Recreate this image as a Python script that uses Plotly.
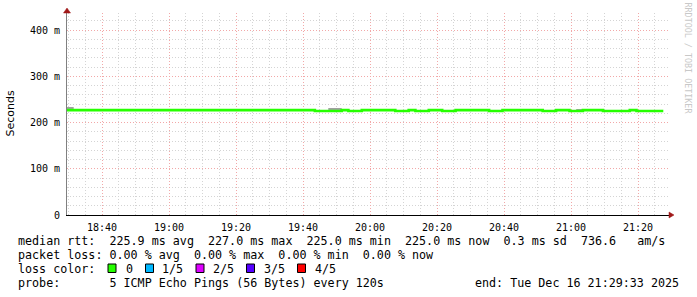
import plotly.graph_objects as go
from datetime import datetime, timedelta

# ---------------- data ----------------
start_time = datetime(2025, 12, 16, 18, 29, 33)
end_time = datetime(2025, 12, 16, 21, 29, 33)
step_minutes = 2

# median rtt per 2-minute bin (ms)
median_ms = [
    226.8, 226.8, 226.8, 226.8, 226.8, 226.8, 226.8, 226.8, 226.8, 226.8,
    226.8, 226.8, 226.8, 226.8, 226.8, 226.8, 226.8, 226.8, 226.8, 226.8,
    226.8, 226.8, 226.8, 226.8, 226.8, 226.8, 226.8, 226.8, 226.8, 226.8,
    226.8, 226.8, 226.8, 226.8, 226.8, 226.8, 226.8, 225.0, 225.0, 225.0,
    225.0, 226.8, 225.0, 225.0, 226.8, 226.8, 226.8, 226.8, 226.8, 225.0,
    225.0, 226.8, 225.0, 225.0, 226.8, 226.8, 225.0, 225.0, 226.8, 226.8,
    226.8, 226.8, 226.8, 225.0, 225.0, 226.8, 226.8, 226.8, 226.8, 226.8,
    226.8, 225.0, 225.0, 226.8, 226.8, 225.0, 225.0, 226.8, 226.8, 226.8,
    225.0, 225.0, 225.0, 225.0, 226.8, 225.0, 225.0, 225.0, 225.0,
]

# smoke (max ping) where visible above the median
smoke_bins = [0, 1, 7, 8, 39, 40, 76, 77]
smoke_max_ms = [233.5, 229.2, 229.0, 229.0, 231.4, 231.4, 229.0, 229.0]

y_tick_vals = [0, 100, 200, 300, 400]
y_tick_text = ["0", "100 m", "200 m", "300 m", "400 m"]

stats_lines = [
    "median rtt:  225.9 ms avg  227.0 ms max  225.0 ms min  225.0 ms now  0.3 ms sd  736.6   am/s",
    "packet loss: 0.00 % avg  0.00 % max  0.00 % min  0.00 % now",
]
loss_labels = ["0", "1/5", "2/5", "3/5", "4/5"]
loss_colors = ["#26ff00", "#00b8ff", "#dd00ff", "#5500ff", "#ff0000"]
probe_text = "probe:       5 ICMP Echo Pings (56 Bytes) every 120s"
end_text = "end: Tue Dec 16 21:29:33 2025"
watermark = "RRDTOOL / TOBI OETIKER"

# ---------------- geometry helpers ----------------
W, H = 697, 297
L, R, T, B = 67, 670, 13, 215


def px(x):
    return (x - L) / (R - L)


def py(y):
    return (B - y) / (B - T)


def nb(s):
    return s.replace(" ", "\u00a0")


bin_starts = [start_time + timedelta(minutes=step_minutes * i) for i in range(len(median_ms))]
line_x = bin_starts + [bin_starts[-1] + timedelta(minutes=step_minutes)]
line_y = median_ms + [median_ms[-1]]

smoke_x = [bin_starts[i] + timedelta(minutes=step_minutes / 2) for i in smoke_bins]
smoke_base = [median_ms[i] for i in smoke_bins]
smoke_h = [m - b for m, b in zip(smoke_max_ms, smoke_base)]

fig = go.Figure()
fig.add_trace(go.Bar(
    x=smoke_x, y=smoke_h, base=smoke_base, width=step_minutes * 60 * 1000,
    marker=dict(color="#a0a0a0", line=dict(width=0)), hoverinfo="skip",
))
fig.add_trace(go.Scatter(
    x=line_x, y=line_y, mode="lines", line=dict(color="#26ff00", width=2.6, shape="hv"),
    hoverinfo="skip",
))

mono = "DejaVu Sans Mono"

fig.update_layout(
    width=W, height=H, autosize=False,
    margin=dict(l=L, r=W - R, t=T, b=H - B, pad=0),
    paper_bgcolor="white", plot_bgcolor="white",
    showlegend=False,
    font=dict(family=mono, size=10, color="black"),
    xaxis=dict(
        type="date", range=[start_time, end_time],
        tick0="2025-12-16 18:40:00", dtick=20 * 60 * 1000, tickformat="%H:%M",
        showgrid=True, gridcolor="#f2a8a8", griddash="1px,2px", gridwidth=1,
        minor=dict(dtick=5 * 60 * 1000, tick0="2025-12-16 18:40:00", showgrid=True,
                   gridcolor="#d4d4d4", griddash="1px,2px", gridwidth=1),
        showline=True, linecolor="black", linewidth=1,
        ticks="outside", ticklen=3, tickcolor="rgba(0,0,0,0)",
        tickfont=dict(family=mono, size=10, color="black"),
        zeroline=False, fixedrange=True,
    ),
    yaxis=dict(
        range=[0, 436.8], tickvals=y_tick_vals, ticktext=y_tick_text,
        showgrid=True, gridcolor="#f2a8a8", griddash="1px,2px", gridwidth=1,
        minor=dict(dtick=20, showgrid=True, gridcolor="#d4d4d4", griddash="1px,2px", gridwidth=1),
        showline=True, linecolor="#808080", linewidth=1,
        ticks="outside", ticklen=4, tickcolor="rgba(0,0,0,0)",
        tickfont=dict(family=mono, size=10, color="black"),
        zeroline=False, fixedrange=True,
    ),
)

annotations = []
shapes = []

# y axis title
annotations.append(dict(x=px(10), y=py(113.5), xref="paper", yref="paper", text="Seconds",
                        textangle=-90, showarrow=False, xanchor="center", yanchor="middle",
                        font=dict(family="DejaVu Sans", size=11, color="black")))
# watermark
annotations.append(dict(x=px(687), y=py(58.5), xref="paper", yref="paper", text=nb(watermark),
                        textangle=90, showarrow=False, xanchor="center", yanchor="middle",
                        font=dict(family=mono, size=8.4, color="#c8c8c8")))

line_ys = [241.5, 255, 269, 283]
for txt, yy in zip(stats_lines, line_ys[:2]):
    annotations.append(dict(x=px(16), y=py(yy), xref="paper", yref="paper", text=nb(txt),
                            showarrow=False, xanchor="left", yanchor="middle",
                            font=dict(family=mono, size=11.7, color="black")))
annotations.append(dict(x=px(16), y=py(line_ys[2]), xref="paper", yref="paper", text=nb("loss color:"),
                        showarrow=False, xanchor="left", yanchor="middle",
                        font=dict(family=mono, size=11.7, color="black")))
sq_x = [108, 145.5, 196, 246.5, 297.5]
lab_x = [123.5, 160, 211, 261.5, 312.5]
for lab, col, sx, lx in zip(loss_labels, loss_colors, sq_x, lab_x):
    shapes.append(dict(type="rect", xref="paper", yref="paper", x0=px(sx), x1=px(sx + 8),
                       y0=py(264), y1=py(272.5), fillcolor=col, line=dict(color="black", width=1)))
    annotations.append(dict(x=px(lx), y=py(line_ys[2]), xref="paper", yref="paper", text=nb(lab),
                            showarrow=False, xanchor="left", yanchor="middle",
                            font=dict(family=mono, size=11.7, color="black")))
annotations.append(dict(x=px(16), y=py(line_ys[3]), xref="paper", yref="paper", text=nb(probe_text),
                        showarrow=False, xanchor="left", yanchor="middle",
                        font=dict(family=mono, size=11.7, color="black")))
annotations.append(dict(x=px(681), y=py(line_ys[3]), xref="paper", yref="paper", text=nb(end_text),
                        showarrow=False, xanchor="right", yanchor="middle",
                        font=dict(family=mono, size=11.7, color="black")))

# axis arrows
shapes.append(dict(type="path", xref="paper", yref="paper", xsizemode="pixel", ysizemode="pixel",
                   xanchor=0, yanchor=1, path="M -3.5,0 L 3.5,0 L 0,5 Z",
                   fillcolor="#a01818", line=dict(color="#a01818", width=0.5)))
shapes.append(dict(type="path", xref="paper", yref="paper", xsizemode="pixel", ysizemode="pixel",
                   xanchor=1, yanchor=0, path="M -1,3 L -1,-3 L 4,0 Z",
                   fillcolor="#a01818", line=dict(color="#a01818", width=0.5)))

fig.update_layout(annotations=annotations, shapes=shapes)
fig.write_html("out.html")
